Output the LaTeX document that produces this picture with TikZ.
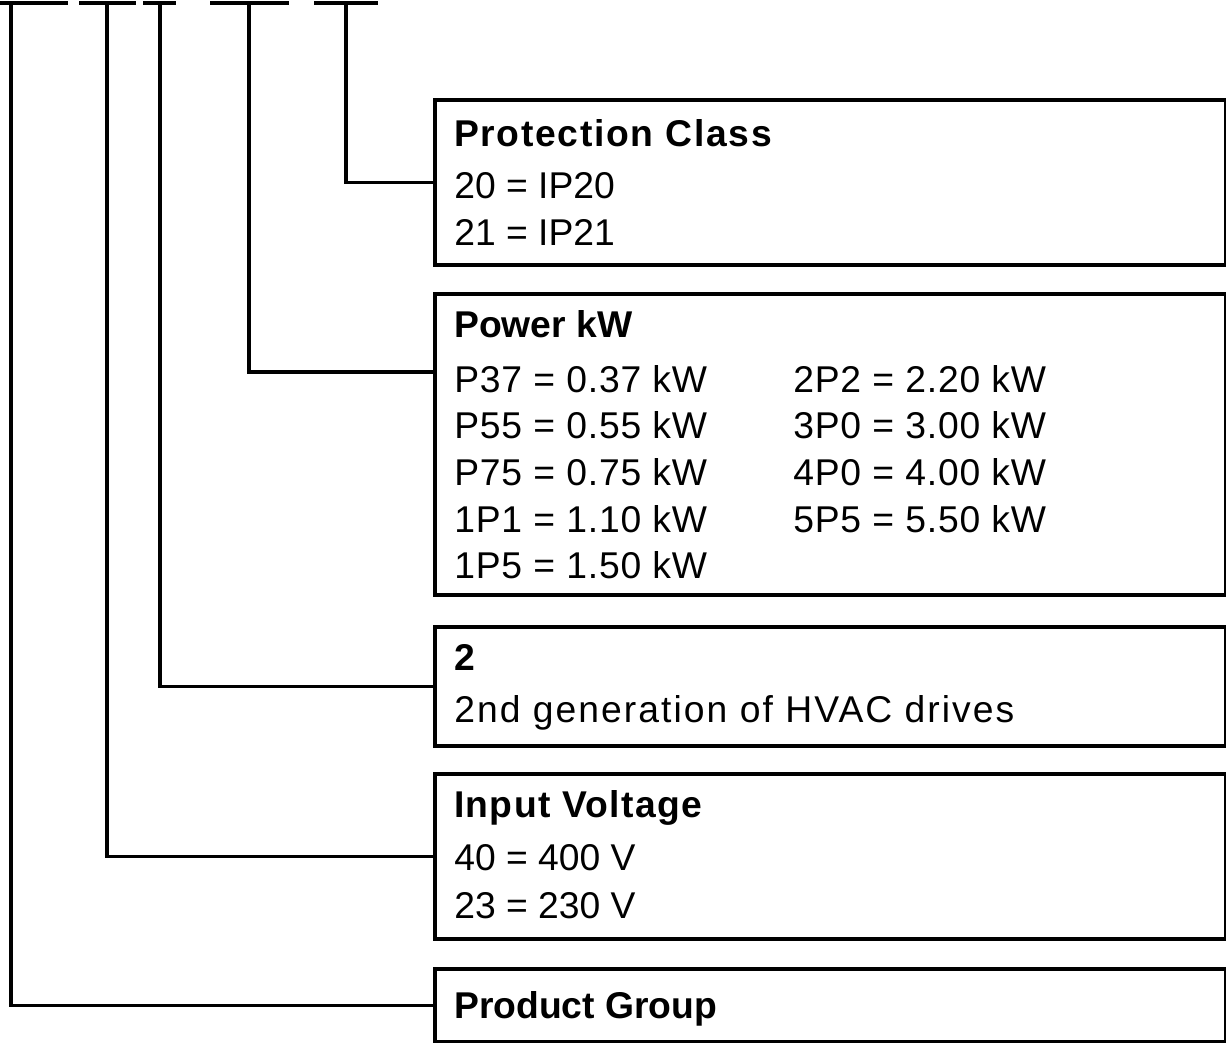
\documentclass[tikz,border=0pt]{standalone}
\usepackage{fontspec}
\setmainfont{Liberation Sans}
\usetikzlibrary{calc}

\tikzset{
  codebox/.style={draw, line width=2.8pt, anchor=north west, inner sep=0pt, minimum width=19.775cm},
  head/.style={anchor=base west, inner sep=0pt, font=\bfseries\fontsize{26.5}{31}\selectfont\addfontfeature{LetterSpace=#1}},
  head/.default=0,
  entry/.style={anchor=base west, inner sep=0pt, font=\fontsize{26.5}{31}\selectfont\addfontfeature{LetterSpace=#1}},
  entry/.default=0,
  wire/.style={line width=2.8pt},
}

\begin{document}
\begin{tikzpicture}[x=0.025cm, y=-0.025cm]
\useasboundingbox (0,0) rectangle (1226,1042);
% type code slots
\draw[wire] (0,3) -- (68,3);
\draw[wire] (79,3) -- (136,3);
\draw[wire] (143,3) -- (176,3);
\draw[wire] (210,3) -- (289,3);
\draw[wire] (314,3) -- (378,3);
\coordinate (s1) at (11,3);
\coordinate (s2) at (107,3);
\coordinate (s3) at (160,3);
\coordinate (s4) at (249,3);
\coordinate (s5) at (346,3);

% boxes
\node[codebox, minimum height=4.125cm] (pc) at (433,98) {};
\node[codebox, minimum height=7.525cm] (pw) at (433,292) {};
\node[codebox, minimum height=2.975cm] (gen) at (433,625) {};
\node[codebox, minimum height=4.125cm] (uin) at (433,772) {};
\node[codebox, minimum height=1.825cm] (grp) at (433,967) {};

% texts
\node[head=4.5] (pc-h) at (454,146) {Protection Class};
\node[entry] (pc-1) at (454,198) {20 = IP20};
\node[entry] (pc-2) at (454,245) {21 = IP21};

\node[head] (pw-h) at (454,337) {Power kW};
\node[entry=2.2] (pw-1) at (454,392) {P37 = 0.37 kW};
\node[entry=2.2] (pw-2) at (454,438) {P55 = 0.55 kW};
\node[entry=2.2] (pw-3) at (454,485) {P75 = 0.75 kW};
\node[entry=2.2] (pw-4) at (454,532) {1P1 = 1.10 kW};
\node[entry=2.2] (pw-5) at (454,578) {1P5 = 1.50 kW};
\node[entry=2.2] (pw-6) at (793,392) {2P2 = 2.20 kW};
\node[entry=2.2] (pw-7) at (793,438) {3P0 = 3.00 kW};
\node[entry=2.2] (pw-8) at (793,485) {4P0 = 4.00 kW};
\node[entry=2.2] (pw-9) at (793,532) {5P5 = 5.50 kW};

\node[head] (gen-h) at (454,670) {2};
\node[entry=5.5] (gen-1) at (454,722) {2nd generation of HVAC drives};

\node[head=3.5] (uin-h) at (454,817) {Input Voltage};
\node[entry] (uin-1) at (454,870) {40 = 400 V};
\node[entry] (uin-2) at (454,918) {23 = 230 V};

\node[head] (grp-h) at (454,1018) {Product Group};

% connectors
\draw[wire] (s5) |- (pc.west);
\draw[wire] (s4) |- ($(pw.north west)+(0,80)$);
\draw[wire] (s3) |- (gen.west);
\draw[wire] (s2) |- (uin.west);
\draw[wire] (s1) |- (grp.west);
\end{tikzpicture}
\end{document}
